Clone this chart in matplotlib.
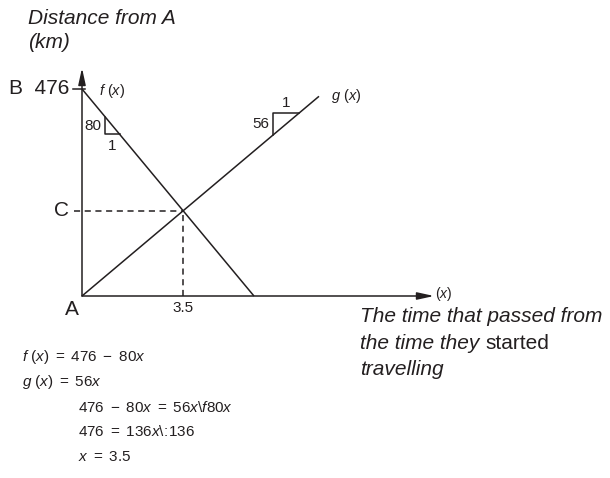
import matplotlib
matplotlib.use('Agg')
import matplotlib.pyplot as plt
import numpy as np

plt.rcParams['font.family'] = ['Liberation Sans', 'DejaVu Sans']
plt.rcParams['mathtext.fontset'] = 'custom'
plt.rcParams['mathtext.rm'] = 'Liberation Sans'
plt.rcParams['mathtext.it'] = 'Liberation Sans:italic'
plt.rcParams['mathtext.bf'] = 'Liberation Sans:bold'

INK = '#231f20'

# distances / speeds
dist_b = 476          # B is 476 km from A
speed_f = 80          # f(x) = 476 - 80x
speed_g = 56          # g(x) = 56x
t_meet = 3.5          # they meet after 3.5 h
g_end = 8.2           # how far g(x) is drawn
f_step = (0.8, 1.3)   # slope triangle on f
g_step = (6.6, 7.5)   # slope triangle on g

equations = [
    (r'$f\ (x)\ =\ 476\ -\ 80x$', 0),
    (r'$g\ (x)\ =\ 56x$', 0),
    (r'$476\ -\ 80x\ =\ 56x\backslash f80x$', 1),
    (r'$476\ =\ 136x\backslash\!:\!136$', 1),
    (r'$x\ =\ 3.5$', 1),
]

W, H = 610, 478
ox, oy = 82, 296          # origin A in pixels
sx, sy = 28.9, 207 / dist_b

fig = plt.figure(figsize=(W / 100, H / 100), dpi=100)
ax = fig.add_axes([0, 0, 1, 1])
ax.set_xlim(-ox / sx, (W - ox) / sx)
ax.set_ylim(-(H - oy) / sy, oy / sy)
ax.axis('off')


def P(x, y):
    return x / W, 1 - y / H


def f(x):
    return dist_b - speed_f * np.asarray(x)


def g(x):
    return speed_g * np.asarray(x)


lw = 1.1
arrow = dict(arrowstyle='-|>,head_length=1.0,head_width=0.22', lw=lw,
             color=INK, shrinkA=0, shrinkB=0)
# axes with arrow heads
ax.annotate('', xy=((434 - ox) / sx, 0), xytext=(0, 0), arrowprops=arrow)
ax.annotate('', xy=(0, (oy - 68) / sy), xytext=(0, 0), arrowprops=arrow)
ax.plot([-0.32, 0.1], [dist_b, dist_b], color=INK, lw=lw)

# the two functions
xf = np.array([0, dist_b / speed_f])
ax.plot(xf, f(xf), color=INK, lw=lw, solid_capstyle='butt')
xg = np.array([0, g_end])
ax.plot(xg, g(xg), color=INK, lw=lw, solid_capstyle='butt')

# meeting point C
c = g(t_meet)
ax.plot([-0.28, t_meet], [c, c], color=INK, lw=lw, ls=(0, (4, 3)))
ax.plot([t_meet, t_meet], [0, c], color=INK, lw=lw, ls=(0, (4, 3)))

# slope triangles
a, b = f_step
ax.plot([a, a, b], [f(a), f(b), f(b)], color=INK, lw=lw)
a, b = g_step
ax.plot([a, a, b], [g(a), g(b), g(b)], color=INK, lw=lw)

tr = ax.transData
ax.text(f_step[0] - 0.12, (f(f_step[0]) + f(f_step[1])) / 2, '80', fontsize=11,
        color=INK, ha='right', va='center', transform=tr)
ax.text(sum(f_step) / 2, f(f_step[1]) - 10, '1', fontsize=11, color=INK,
        ha='center', va='top', transform=tr)
ax.text(g_step[0] - 0.12, (g(g_step[0]) + g(g_step[1])) / 2, '56', fontsize=11,
        color=INK, ha='right', va='center', transform=tr)
ax.text(sum(g_step) / 2, g(g_step[1]) + 8, '1', fontsize=11, color=INK,
        ha='center', va='bottom', transform=tr)

ax.text(0.6, dist_b - 5, r'$f\ (x)$', fontsize=10.5, color=INK,
        ha='left', va='center', transform=tr)
ax.text(g_end + 0.4, g(g_end), r'$g\ (x)$', fontsize=10.5, color=INK,
        ha='left', va='center', transform=tr)
ax.text(t_meet, -12, '3.5', fontsize=11, color=INK, ha='center', va='top',
        transform=tr)
ax.text(-0.45, dist_b, 'B  476', fontsize=15, color=INK, ha='right',
        va='center', transform=tr)
ax.text(-0.45, c, 'C', fontsize=15, color=INK, ha='right', va='center',
        transform=tr)
ax.text(-0.35, -10, 'A', fontsize=15, color=INK, ha='center', va='top',
        transform=tr)
ax.text(*P(435, 294), r'$(x)$', fontsize=10, color=INK, ha='left',
        va='center', transform=ax.transAxes)

# axis captions
ax.text(*P(28, 9), 'Distance from A\n(km)', fontsize=15, style='italic',
        color=INK, ha='left', va='top', linespacing=1.3, transform=ax.transAxes)
ax.text(*P(360, 322), 'The time that passed from', fontsize=15, style='italic',
        color=INK, ha='left', va='baseline', transform=ax.transAxes)
t1 = ax.text(*P(360, 349), 'the time they ', fontsize=15, style='italic',
             color=INK, ha='left', va='baseline', transform=ax.transAxes)
ax.text(*P(360, 375), 'travelling', fontsize=15, style='italic',
        color=INK, ha='left', va='baseline', transform=ax.transAxes)
fig.canvas.draw()
x1 = t1.get_window_extent().x1
ax.text(x1 / W, 1 - 349 / H, 'started', fontsize=15, color=INK, ha='left',
        va='baseline', transform=ax.transAxes)

# working out
for i, (eq, indent) in enumerate(equations):
    ax.text(*P(22 + 56 * indent, 357 + 25 * i), eq, fontsize=11,
            color=INK, ha='left', va='center', transform=ax.transAxes)

fig.savefig('out.png', dpi=100)
